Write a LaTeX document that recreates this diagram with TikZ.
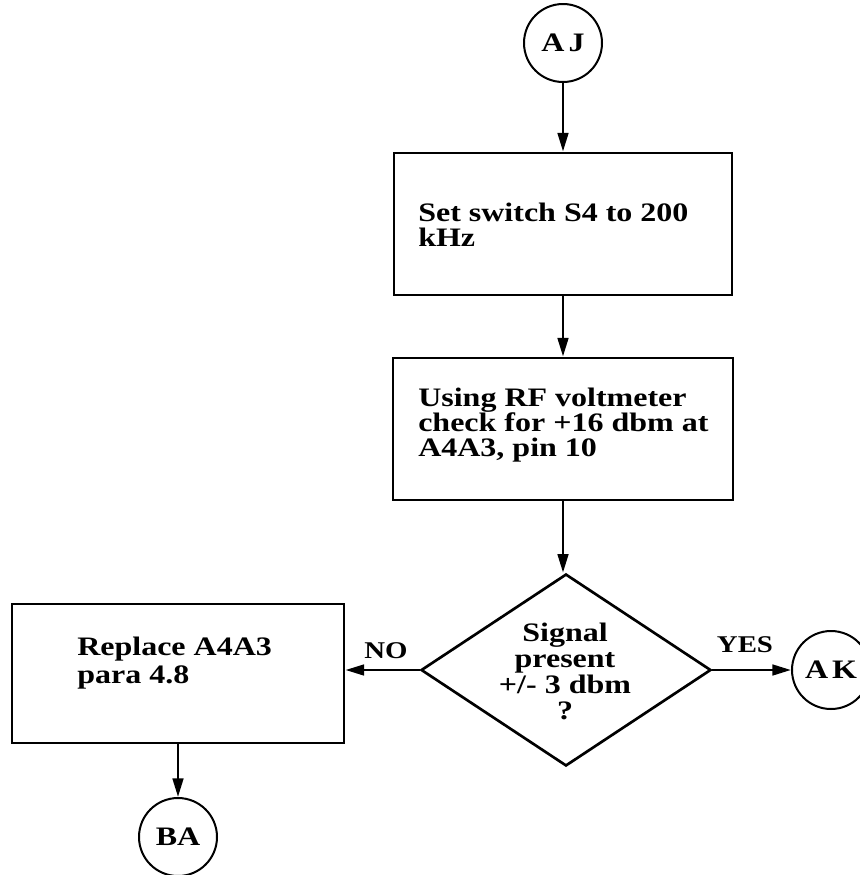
\documentclass[tikz,border=0pt]{standalone}
\usepackage{fontspec}
\setmainfont{Liberation Serif}[FakeStretch=1.2]
\usetikzlibrary{shapes.geometric,arrows.meta}
\tikzset{
    flowline/.style={line width=2pt, -{Triangle[length=14pt,width=8pt]}},
    procbox/.style={draw, line width=2.2pt, inner sep=0pt},
    decbox/.style={draw, diamond, line width=2pt, inner sep=0pt},
    connector/.style={draw, circle, line width=1.5pt, minimum size=58.5pt, inner sep=0pt,
        font=\bfseries\fontsize{20}{20}\selectfont},
    boxtext/.style={font=\bfseries\fontsize{20}{18.5}\selectfont, align=left, anchor=north west, inner sep=0pt},
    answer/.style={font=\bfseries\fontsize{18}{18}\selectfont, inner sep=0pt},
}
\begin{document}
\begin{tikzpicture}[x=0.75pt, y=-0.75pt]
        \useasboundingbox (0,0) rectangle (860,875);
        % ── main column ──────────────────────────────────────
        \node[connector] (aj) at (563,43) {A\hspace{3pt}J};
        \node[procbox, minimum width=253.5pt, minimum height=106.5pt] (sw) at (563,224) {};
        \node[boxtext] (swtxt) at (418,203) {Set switch S4 to 200\\kHz};
        \node[procbox, minimum width=255pt, minimum height=106.5pt] (rf) at (563,429) {};
        \node[boxtext] (rftxt) at (418,388) {Using RF voltmeter\\check for +16 dbm at\\A4A3, pin 10};
        % decision
        \node[decbox, minimum width=217.5pt, minimum height=144pt] (sig) at (566,670) {};
        \node[font=\bfseries\fontsize{20}{19.5}\selectfont, align=center, inner sep=0pt] (sigtxt) at (565,671)
            {Signal\\present\\+/- 3 dbm\\?};
        % ── branches ─────────────────────────────────────────
        \node[connector] (ak) at (831,670) {A\hspace{3pt}K};
        \node[procbox, minimum width=249pt, minimum height=104.25pt] (rep) at (178,673.5) {};
        \node[boxtext, font=\bfseries\fontsize{20}{21}\selectfont] (reptxt) at (77,637) {Replace A4A3\\para 4.8};
        \node[connector] (ba) at (178,837) {BA};
        \node[answer] (yes) at (745,645) {YES};
        \node[answer] (no) at (386,651) {NO};
        % flow lines
        \draw[flowline] (aj) -- (sw);
        \draw[flowline] (sw) -- (rf);
        \draw[flowline] (rf.south) -- (rf.south |- sig.north);
        \draw[flowline] (sig.east) -- (ak.west);
        \draw[flowline] (sig.west) -- (sig.west -| rep.east);
        \draw[flowline] (rep) -- (ba);
\end{tikzpicture}
\end{document}
